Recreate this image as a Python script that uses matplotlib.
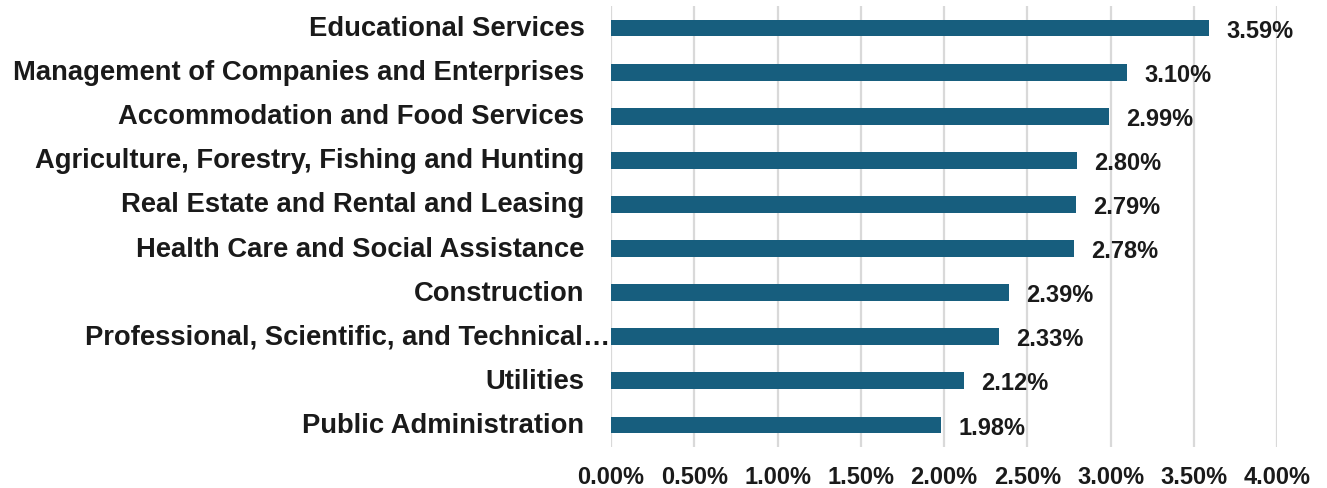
import matplotlib
matplotlib.use("Agg")
import matplotlib.pyplot as plt
import matplotlib.transforms as mtransforms
from matplotlib.ticker import FuncFormatter

categories = [
    "Educational Services",
    "Management of Companies and Enterprises",
    "Accommodation and Food Services",
    "Agriculture, Forestry, Fishing and Hunting",
    "Real Estate and Rental and Leasing",
    "Health Care and Social Assistance",
    "Construction",
    "Professional, Scientific, and Technical…",
    "Utilities",
    "Public Administration",
]
values = [3.59, 3.10, 2.99, 2.80, 2.79, 2.78, 2.39, 2.33, 2.12, 1.98]
xticks = [0.0, 0.5, 1.0, 1.5, 2.0, 2.5, 3.0, 3.5, 4.0]

plt.rcParams['font.family'] = ['Liberation Sans', 'DejaVu Sans']

fig = plt.figure(figsize=(13.27, 4.89), dpi=100)
ax = fig.add_axes([611/1327, 41/489, (1277-611)/1327, (482-41)/489])

pos = list(range(len(categories)))
ax.barh(pos, values, height=0.38, color="#175e7e", zorder=3)
for p, v in zip(pos, values):
    ax.annotate(f"{v:.2f}%", (v, p), xytext=(12.5, -1.5), textcoords="offset points",
                va="center", ha="left", fontsize=17, fontweight="bold", color="#1a1a1a")

ax.set_xlim(0, 4.0)
ax.set_ylim(len(categories) - 0.5, -0.5)
ax.set_xticks(xticks)
ax.xaxis.set_major_formatter(FuncFormatter(lambda x, _: f"{x:.2f}%"))
ax.set_yticks(pos)
ax.set_yticklabels(categories)
ax.tick_params(axis="both", length=0)
ax.tick_params(axis="y", pad=19, labelsize=19.7)
ax.tick_params(axis="x", pad=13, labelsize=17)
for lab in ax.get_xticklabels():
    lab.set_fontweight("bold")
    lab.set_color("#1a1a1a")
for i, lab in enumerate(ax.get_yticklabels()):
    lab.set_fontweight("bold")
    lab.set_color("#1a1a1a")
    dx = 26/100 if i == 7 else 0
    lab.set_transform(lab.get_transform() + mtransforms.ScaledTranslation(dx, 3/100, fig.dpi_scale_trans))

ax.grid(axis="x", color="#d9d9d9", linewidth=1.6, zorder=0)
for s in ax.spines.values():
    s.set_visible(False)

fig.savefig("out.png", dpi=100)
